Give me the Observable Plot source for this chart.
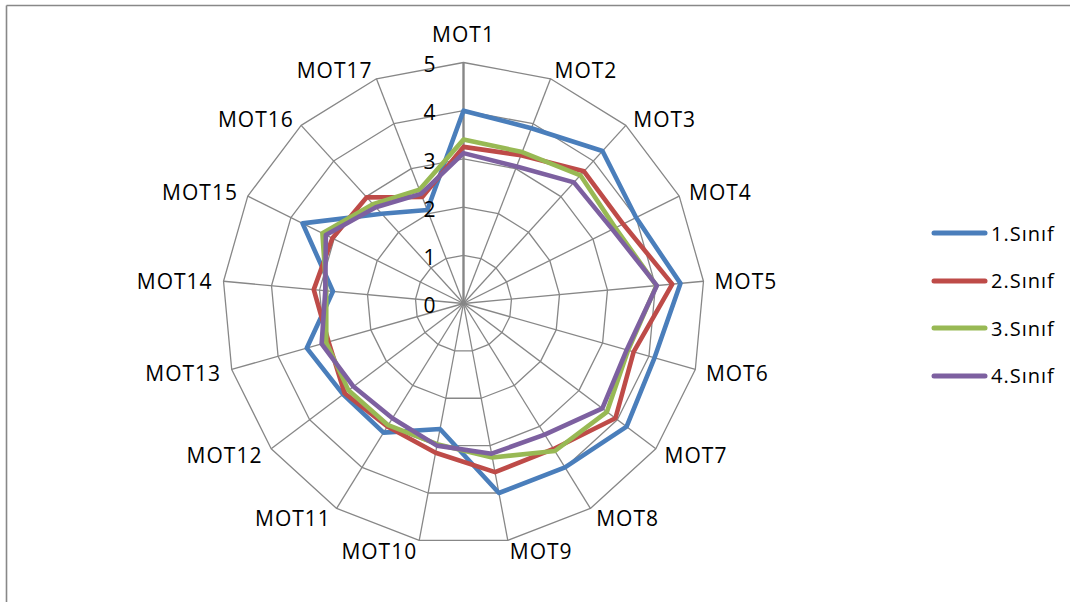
<!DOCTYPE html>
<html>
<head>
<meta charset="utf-8">
<script src="https://cdn.jsdelivr.net/npm/d3@7"></script>
<script src="https://cdn.jsdelivr.net/npm/@observablehq/plot@0.6"></script>
<style>
  html, body { margin: 0; padding: 0; background: #fff; }
  #wrap { position: relative; width: 1070px; height: 602px; overflow: hidden; }
  #wrap svg text { letter-spacing: 1px; }
  #legend { position: absolute; left: 930px; top: 0; font-family: "Open Sans", sans-serif; font-size: 20px; letter-spacing: 1px; color: #000; }
  .item { position: absolute; left: 0; height: 26px; display: flex; align-items: center; white-space: nowrap; }
  .item svg { display: block; margin-right: 3px; }
</style>
</head>
<body>
<div id="wrap"><div id="legend"></div></div>
<script>
const categories = ["MOT1","MOT2","MOT3","MOT4","MOT5","MOT6","MOT7","MOT8","MOT9","MOT10","MOT11","MOT12","MOT13","MOT14","MOT15","MOT16","MOT17"];
const seriesNames = ["1.Sınıf","2.Sınıf","3.Sınıf","4.Sınıf"];
const sinif1 = [4.0, 3.9, 4.28, 4.0, 4.52, 4.12, 4.24, 4.0, 4.0, 2.65, 3.15, 3.13, 3.38, 2.72, 3.73, 2.52, 2.08];
const sinif2 = [3.25, 3.3, 3.71, 3.7, 4.35, 3.67, 3.95, 3.55, 3.56, 3.15, 3.0, 3.09, 2.91, 3.12, 3.04, 2.98, 2.37];
const sinif3 = [3.4, 3.37, 3.6, 3.52, 4.02, 3.55, 3.73, 3.6, 3.25, 2.97, 2.97, 2.99, 2.96, 2.86, 3.27, 2.79, 2.53];
const sinif4 = [3.12, 3.05, 3.4, 3.45, 4.03, 3.52, 3.61, 3.2, 3.17, 3.0, 2.8, 2.86, 3.06, 2.88, 3.19, 2.7, 2.44];
const tickValues = [0, 1, 2, 3, 4, 5];
const seriesColors = ["#4A7EBB", "#BE4B48", "#98B954", "#7D60A0"];

// layout
const W = 1070, H = 602, CX = 463, CY = 303, UNIT = 48.2;
const maxV = 5;
const n = categories.length;
const ang = i => i * 2 * Math.PI / n;
const allSeries = [sinif1, sinif2, sinif3, sinif4];

const rows = [];
seriesNames.forEach((s, k) => {
  allSeries[k].forEach((v, i) => {
    rows.push({series: s, cat: categories[i], value: v, x: v * Math.sin(ang(i)), y: v * Math.cos(ang(i))});
  });
});

const rings = [];
tickValues.filter(t => t > 0).forEach(t => {
  categories.forEach((c, i) => rings.push({ring: t, x: t * Math.sin(ang(i)), y: t * Math.cos(ang(i))}));
});

const spokes = categories.map((c, i) => ({cat: c, i, x2: maxV * Math.sin(ang(i)), y2: maxV * Math.cos(ang(i))}));

const labels = categories.map((c, i) => {
  const s = Math.sin(ang(i)), co = Math.cos(ang(i));
  const anchor = Math.abs(s) < 0.1 ? "middle" : (s > 0 ? "start" : "end");
  const dxp = s * 11;
  const dyp = anchor === "middle" ? -co * 27 : -co * 10 + 2;
  return {cat: c, anchor, x: maxV * s + dxp / UNIT, y: maxV * co - dyp / UNIT};
});

const font = "Open Sans, sans-serif";
const txt = (anchor) => Plot.text(labels.filter(d => d.anchor === anchor), {
  x: "x", y: "y", text: "cat", textAnchor: anchor, lineAnchor: "middle", fontSize: 21, fill: "#000"
});

const plot = Plot.plot({
  width: W, height: H, margin: 0,
  style: {fontFamily: font, background: "transparent", overflow: "visible"},
  x: {domain: [-CX / UNIT, (W - CX) / UNIT], axis: null},
  y: {domain: [-(H - CY) / UNIT, CY / UNIT], axis: null},
  color: {domain: seriesNames, range: seriesColors},
  marks: [
    Plot.line(rings, {x: "x", y: "y", z: "ring", curve: "linear-closed", stroke: "#878787", strokeWidth: 1.3}),
    Plot.link(spokes.filter(d => d.i > 0), {x1: 0, y1: 0, x2: "x2", y2: "y2", stroke: "#878787", strokeWidth: 1.3}),
    Plot.link(spokes.filter(d => d.i === 0), {x1: 0, y1: 0, x2: "x2", y2: "y2", stroke: "#878787", strokeWidth: 2.4}),
    Plot.line(rows, {x: "x", y: "y", z: "series", stroke: "series", curve: "linear-closed", strokeWidth: 4.6, strokeLinejoin: "round"}),
    Plot.text(tickValues, {x: 0, y: d => d, text: d => String(d), textAnchor: "end", lineAnchor: "middle", dx: -27, dy: 3, fontSize: 21, fill: "#000"}),
    txt("start"), txt("end"), txt("middle")
  ]
});

const wrap = document.getElementById("wrap");
wrap.insertBefore(plot, wrap.firstChild);

// chart-area border (top and left)
const border = document.createElementNS("http://www.w3.org/2000/svg", "g");
border.innerHTML = '<line x1="6.5" y1="5.5" x2="1070" y2="5.5" stroke="#888" stroke-width="1.6"/><line x1="6.5" y1="5.5" x2="6.5" y2="602" stroke="#888" stroke-width="1.6"/>';
plot.appendChild(border);

// legend
const legend = document.getElementById("legend");
const legendY = [233, 280.5, 328, 375.5];
seriesNames.forEach((s, k) => {
  const item = document.createElement("div");
  item.className = "item";
  item.style.top = (legendY[k] - 13) + "px";
  item.innerHTML = `<svg width="58" height="10"><line x1="4" y1="5" x2="55" y2="5" stroke="${seriesColors[k]}" stroke-width="5" stroke-linecap="round"/></svg><span>${s}</span>`;
  legend.appendChild(item);
});
</script>
</body>
</html>
